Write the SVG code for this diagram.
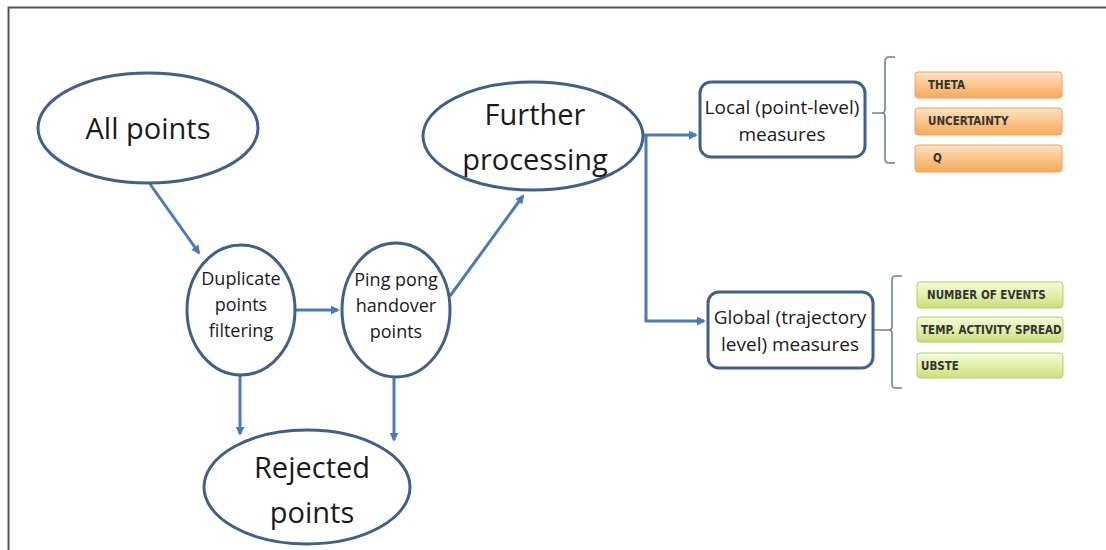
<svg xmlns="http://www.w3.org/2000/svg" width="1106" height="550" viewBox="0 0 1106 550">
  <defs>
    <style>
      .node { fill: #ffffff; stroke: #3f5f8c; stroke-width: 3; }
      .box { fill: #ffffff; stroke: #3f5f8c; stroke-width: 3; }
      .lbl { font-family: "Open Sans", "Liberation Sans", sans-serif; fill: #1a1a1a; text-anchor: middle; }
      .big { font-size: 29px; }
      .mid { font-size: 19px; }
      .sm { font-size: 18px; }
      .tag { font-family: "DejaVu Sans Condensed", "Liberation Sans", sans-serif; font-size: 11.5px; fill: #333333; font-weight: bold; }
      .edge { fill: none; stroke: #4a7ab8; stroke-width: 3; }
      .brace { fill: none; stroke: #6d7f98; stroke-width: 1.6; }
      .orange { fill: url(#gOrange); stroke: #e8a463; stroke-width: 1; }
      .green { fill: url(#gGreen); stroke: #b5cf6a; stroke-width: 1; }
    </style>
    <linearGradient id="gOrange" x1="0" y1="0" x2="0" y2="1">
      <stop offset="0" stop-color="#fde3c4"/>
      <stop offset="0.5" stop-color="#fbc48a"/>
      <stop offset="1" stop-color="#f6a95c"/>
    </linearGradient>
    <linearGradient id="gGreen" x1="0" y1="0" x2="0" y2="1">
      <stop offset="0" stop-color="#f4fadc"/>
      <stop offset="0.5" stop-color="#e2f0a8"/>
      <stop offset="1" stop-color="#c8df7c"/>
    </linearGradient>
    <clipPath id="clipSpread">
      <rect x="917" y="317" width="146" height="25"/>
    </clipPath>
    <marker id="arrow" viewBox="0 0 10 10" refX="8" refY="5" markerWidth="3" markerHeight="3" orient="auto" markerUnits="strokeWidth">
      <path d="M0,0 L10,5 L0,10 z" fill="#4a7ab8"/>
    </marker>
  </defs>

  <rect width="1106" height="550" fill="#ffffff"/>
  <!-- page frame -->
  <path d="M8.5,550 V7.5 H1106" fill="none" stroke="#555555" stroke-width="2"/>

  <!-- connectors -->
  <g id="connectors">
    <path class="edge" d="M150,184 L199,253" marker-end="url(#arrow)"/>
    <path class="edge" d="M296,310 L338,310" marker-end="url(#arrow)"/>
    <path class="edge" d="M450,296 L523,196" marker-end="url(#arrow)"/>
    <path class="edge" d="M240,376 L240,434" marker-end="url(#arrow)"/>
    <path class="edge" d="M394,378 L394,440" marker-end="url(#arrow)"/>
    <path class="edge" d="M643,135 L696,135" marker-end="url(#arrow)"/>
    <path class="edge" d="M646,135 L646,321 L704,321" marker-end="url(#arrow)"/>
  </g>

  <g id="all-points">
    <ellipse class="node" cx="148" cy="128" rx="110" ry="55"/>
    <text class="lbl big" x="148" y="139">All points</text>
  </g>

  <g id="duplicate-filtering">
    <ellipse class="node" cx="241" cy="310" rx="54" ry="65"/>
    <text class="lbl sm" x="241" y="285">Duplicate</text>
    <text class="lbl sm" x="241" y="311">points</text>
    <text class="lbl sm" x="241" y="337">filtering</text>
  </g>

  <g id="ping-pong">
    <ellipse class="node" cx="396" cy="310" rx="54" ry="67"/>
    <text class="lbl sm" x="396" y="286">Ping pong</text>
    <text class="lbl sm" x="396" y="312">handover</text>
    <text class="lbl sm" x="396" y="338">points</text>
  </g>

  <g id="further-processing">
    <ellipse class="node" cx="533" cy="136" rx="110" ry="54"/>
    <text class="lbl big" x="535" y="125">Further</text>
    <text class="lbl big" x="535" y="170">processing</text>
  </g>

  <g id="rejected-points">
    <ellipse class="node" cx="307" cy="487" rx="103" ry="57"/>
    <text class="lbl big" x="312" y="478">Rejected</text>
    <text class="lbl big" x="312" y="523">points</text>
  </g>

  <g id="local-measures">
    <rect class="box" x="700" y="82" width="165" height="75" rx="11"/>
    <text class="lbl mid" x="782" y="114">Local (point-level)</text>
    <text class="lbl mid" x="782" y="141">measures</text>
  </g>

  <g id="global-measures">
    <rect class="box" x="708" y="292" width="165" height="76" rx="11"/>
    <text class="lbl mid" x="790" y="324">Global (trajectory</text>
    <text class="lbl mid" x="790" y="351">level) measures</text>
  </g>

  <g id="local-list">
    <path class="brace" d="M872,113 H884 M895,57 H889 Q885,57 885,61 V109 Q885,113 882,113 Q885,113 885,117 V159 Q885,163 889,163 H895"/>
    <rect class="orange" x="915" y="72" width="147" height="26" rx="3"/>
    <text class="tag" x="928" y="89">THETA</text>
    <rect class="orange" x="915" y="108" width="147" height="27" rx="3"/>
    <text class="tag" x="928" y="125">UNCERTAINTY</text>
    <rect class="orange" x="915" y="145" width="147" height="27" rx="3"/>
    <text class="tag" x="933" y="162">Q</text>
  </g>

  <g id="global-list">
    <path class="brace" d="M874,330 H891 M902,276 H896 Q892,276 892,280 V326 Q892,330 889,330 Q892,330 892,334 V384 Q892,388 896,388 H902"/>
    <rect class="green" x="917" y="282" width="146" height="26" rx="3"/>
    <text class="tag" x="927" y="299">NUMBER OF EVENTS</text>
    <rect class="green" x="917" y="317" width="146" height="25" rx="3"/>
    <text class="tag" x="921" y="334" clip-path="url(#clipSpread)">TEMP. ACTIVITY SPREAD</text>
    <rect class="green" x="917" y="353" width="146" height="25" rx="3"/>
    <text class="tag" x="921" y="370">UBSTE</text>
  </g>
</svg>
